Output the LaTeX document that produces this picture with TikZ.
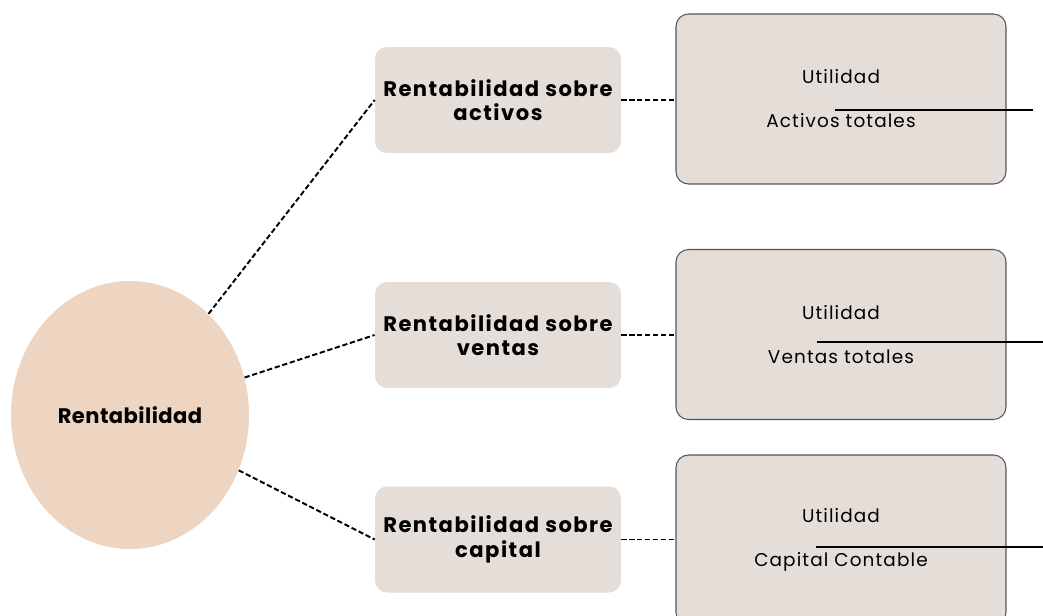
\documentclass[tikz,border=0pt]{standalone}
\usepackage{fontspec}
\setmainfont{Poppins}
\usetikzlibrary{shapes.geometric,calc}
\definecolor{peach}{HTML}{EDD5C2}
\definecolor{stone}{HTML}{E4DDD8}
\definecolor{rim}{HTML}{555555}
\begin{document}
\begin{tikzpicture}[
    mainnode/.style={ellipse, fill=peach, minimum width=4.76cm, minimum height=5.36cm, inner sep=0pt,
        font=\fontsize{12}{14}\selectfont\bfseries\addfontfeature{LetterSpace=2}},
    ratiobox/.style={rounded corners=0.24cm, fill=stone, minimum width=4.92cm, minimum height=2.12cm,
        align=center, font=\fontsize{12}{14}\selectfont\bfseries\addfontfeature{LetterSpace=7}},
    formulabox/.style={rounded corners=0.25cm, fill=stone, draw=rim, line width=0.6pt, minimum width=6.6cm,
        minimum height=3.4cm, align=center, font=\fontsize{10.5}{25}\selectfont\addfontfeature{LetterSpace=6}},
    link/.style={dash pattern=on 3pt off 1.5pt, line width=1.1pt},
    bar/.style={line width=0.8pt}
]
    \useasboundingbox (0,0) rectangle (20.86,-12.32);
    \node[mainnode] (rent) at (2.6,-8.3) {Rentabilidad};
    % razones
    \node[ratiobox] (act) at (9.96,-2.0) {Rentabilidad sobre\\activos};
    \node[ratiobox] (ven) at (9.96,-6.7) {Rentabilidad sobre\\ventas};
    \node[ratiobox] (cap) at (9.96,-10.79) {Rentabilidad sobre\\capital};
    % formulas
    \node[formulabox] (fact) at (16.82,-1.98) {Utilidad\\Activos totales};
    \node[formulabox] (fven) at (16.82,-6.69) {Utilidad\\Ventas totales};
    \node[formulabox] (fcap) at (16.82,-10.8) {Utilidad\\Capital Contable};
    \draw[link] (rent) -- (act.west);
    \draw[link] (rent) -- (ven.west);
    \draw[link] (rent) -- (cap.west);
    \draw[link] (act.east) -- (act.east -| fact.west);
    \draw[link] (ven.east) -- (ven.east -| fven.west);
    \draw[link] (cap.east) -- (cap.east -| fcap.west);
    \draw[bar] (16.7,-2.2) -- (20.66,-2.2);
    \draw[bar] (16.34,-6.84) -- (20.86,-6.84);
    \draw[bar] (16.32,-10.94) -- (20.86,-10.94);
\end{tikzpicture}
\end{document}
